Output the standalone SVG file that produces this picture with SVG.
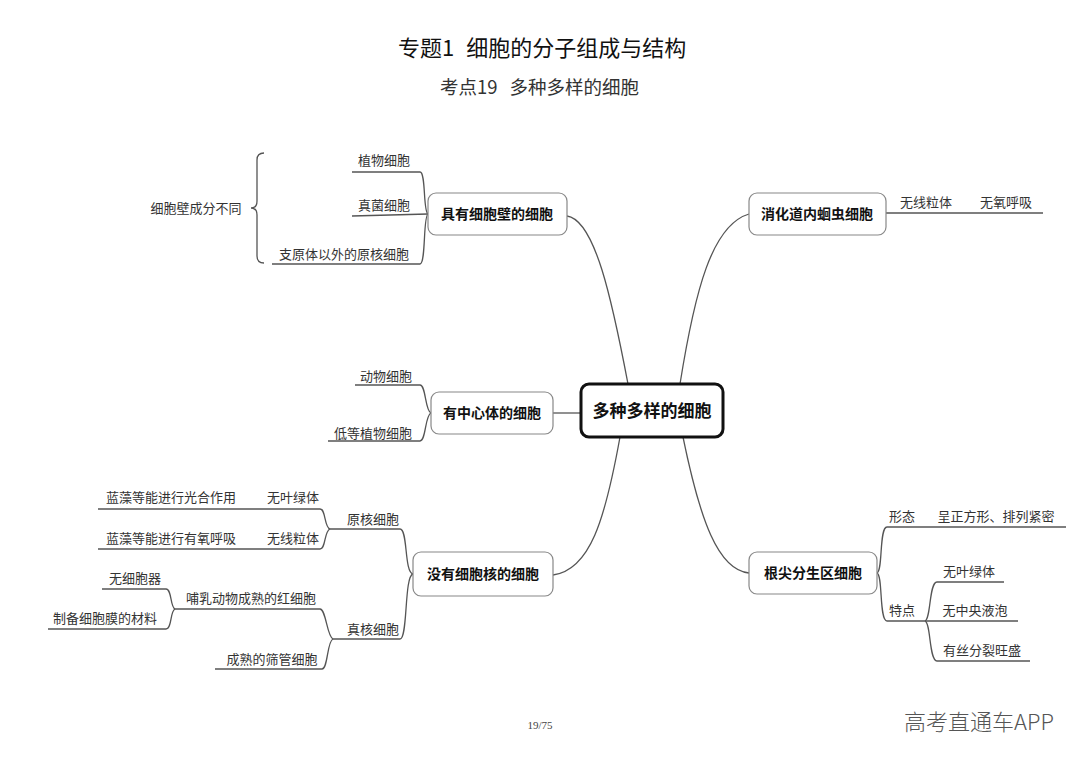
<svg xmlns="http://www.w3.org/2000/svg" width="1080" height="763" viewBox="0 0 1080 763">
<style>
.lbl{font-family:"Noto Sans CJK SC","Noto Sans",sans-serif;font-size:13px;fill:#333;text-anchor:middle}
.nd{font-family:"Noto Sans CJK SC","Noto Sans",sans-serif;font-size:14px;font-weight:bold;fill:#111;text-anchor:middle}
.box{fill:#fff;stroke:#888;stroke-width:1.2}
.ln{fill:none;stroke:#555;stroke-width:1.3}
</style>
<rect width="1080" height="763" fill="#fff"/>
<text x="398" y="56" font-family="Noto Sans CJK SC,sans-serif" font-size="22" fill="#111">专题1<tspan dx="12">细胞的分子组成与结构</tspan></text>
<text x="440" y="94" font-family="Noto Sans CJK SC,sans-serif" font-size="18.5" fill="#333">考点19<tspan dx="12">多种多样的细胞</tspan></text>
<g id="connectors">
<path class="ln" d="M567 216 C595 220 612 300 628 384"/>
<path class="ln" d="M680 384 C695 290 712 225 749 214"/>
<path class="ln" d="M553 413 L581 413"/>
<path class="ln" d="M620 437 C605 520 590 570 553 575"/>
<path class="ln" d="M683 437 C700 520 718 570 749 573"/>
<path class="ln" d="M352 172 L420 172 C426 172 423 212 428 214"/>
<path class="ln" d="M352 216 L428 214"/>
<path class="ln" d="M272 264 L420 264 C426 264 423 216 428 214"/>
<path class="ln" d="M264 153 Q257 153 257 160 L257 201 Q257 208 251 208 Q257 208 257 215 L257 256 Q257 263 264 263"/>
<path class="ln" d="M886 213 L1043 213"/>
<path class="ln" d="M355 385 L420 385 C426 385 425 411 431 413"/>
<path class="ln" d="M328 441 L420 441 C426 441 425 415 431 413"/>
<path class="ln" d="M330 529 L400 529 C408 529 404 572 413 574"/>
<path class="ln" d="M333 639 L400 639 C408 639 404 576 413 574"/>
<path class="ln" d="M98 509 L320 509 C326 509 324 527 330 529"/>
<path class="ln" d="M98 549 L320 549 C326 549 324 531 330 529"/>
<path class="ln" d="M175 609 L320 609 C326 609 327 637 333 639"/>
<path class="ln" d="M215 669 L322 669 C328 669 327 641 333 639"/>
<path class="ln" d="M102 589 L166 589 C172 589 170 607 175 609"/>
<path class="ln" d="M48 629 L166 629 C172 629 170 611 175 609"/>
<path class="ln" d="M877 573 C883 571 879 527 887 527 L1066 527"/>
<path class="ln" d="M877 573 C883 575 879 621 887 621 L925 621"/>
<path class="ln" d="M925 621 C931 619 929 582 937 582 L1004 582"/>
<path class="ln" d="M925 621 L1018 621"/>
<path class="ln" d="M925 621 C931 623 929 661 937 661 L1030 661"/>
</g>
<g id="center">
<rect x="581" y="384" width="142" height="53" rx="8" fill="#fff" stroke="#111" stroke-width="3"/>
<text x="652" y="417" font-family="Noto Sans CJK SC,sans-serif" font-size="17" font-weight="bold" fill="#111" text-anchor="middle">多种多样的细胞</text>
</g>
<g id="n-wall">
<rect class="box" x="428" y="193" width="139" height="42" rx="8"/>
<text class="nd" x="497" y="219">具有细胞壁的细胞</text>
<text class="lbl" x="384" y="165">植物细胞</text>
<text class="lbl" x="384" y="210">真菌细胞</text>
<text class="lbl" x="344" y="259">支原体以外的原核细胞</text>
<text class="lbl" x="196" y="213">细胞壁成分不同</text>
</g>
<g id="n-worm">
<rect class="box" x="749" y="193" width="137" height="42" rx="8"/>
<text class="nd" x="817" y="219">消化道内蛔虫细胞</text>
<text class="lbl" x="926" y="207">无线粒体</text>
<text class="lbl" x="1006" y="207">无氧呼吸</text>
</g>
<g id="n-centriole">
<rect class="box" x="431" y="392" width="122" height="42" rx="8"/>
<text class="nd" x="492" y="418">有中心体的细胞</text>
<text class="lbl" x="386" y="381">动物细胞</text>
<text class="lbl" x="373" y="438">低等植物细胞</text>
</g>
<g id="n-nonucleus">
<rect class="box" x="413" y="552" width="140" height="44" rx="8"/>
<text class="nd" x="483" y="579">没有细胞核的细胞</text>
<text class="lbl" x="373" y="524">原核细胞</text>
<text class="lbl" x="171" y="502">蓝藻等能进行光合作用</text>
<text class="lbl" x="293" y="502">无叶绿体</text>
<text class="lbl" x="171" y="543">蓝藻等能进行有氧呼吸</text>
<text class="lbl" x="293" y="543">无线粒体</text>
<text class="lbl" x="373" y="634">真核细胞</text>
<text class="lbl" x="251" y="603">哺乳动物成熟的红细胞</text>
<text class="lbl" x="135" y="583">无细胞器</text>
<text class="lbl" x="105" y="623">制备细胞膜的材料</text>
<text class="lbl" x="272" y="664">成熟的筛管细胞</text>
</g>
<g id="n-root">
<rect class="box" x="749" y="552" width="128" height="42" rx="8"/>
<text class="nd" x="813" y="578">根尖分生区细胞</text>
<text class="lbl" x="902" y="521">形态</text>
<text class="lbl" x="996" y="521">呈正方形、排列紧密</text>
<text class="lbl" x="902" y="615">特点</text>
<text class="lbl" x="969" y="576">无叶绿体</text>
<text class="lbl" x="975" y="615">无中央液泡</text>
<text class="lbl" x="982" y="655">有丝分裂旺盛</text>
</g>
<text x="540" y="729" font-family="Liberation Serif,serif" font-size="11" fill="#444" text-anchor="middle">19/75</text>
<text x="979" y="730" font-family="Noto Sans CJK SC,sans-serif" font-size="22" font-weight="300" fill="#555" text-anchor="middle">高考直通车APP</text>
</svg>
